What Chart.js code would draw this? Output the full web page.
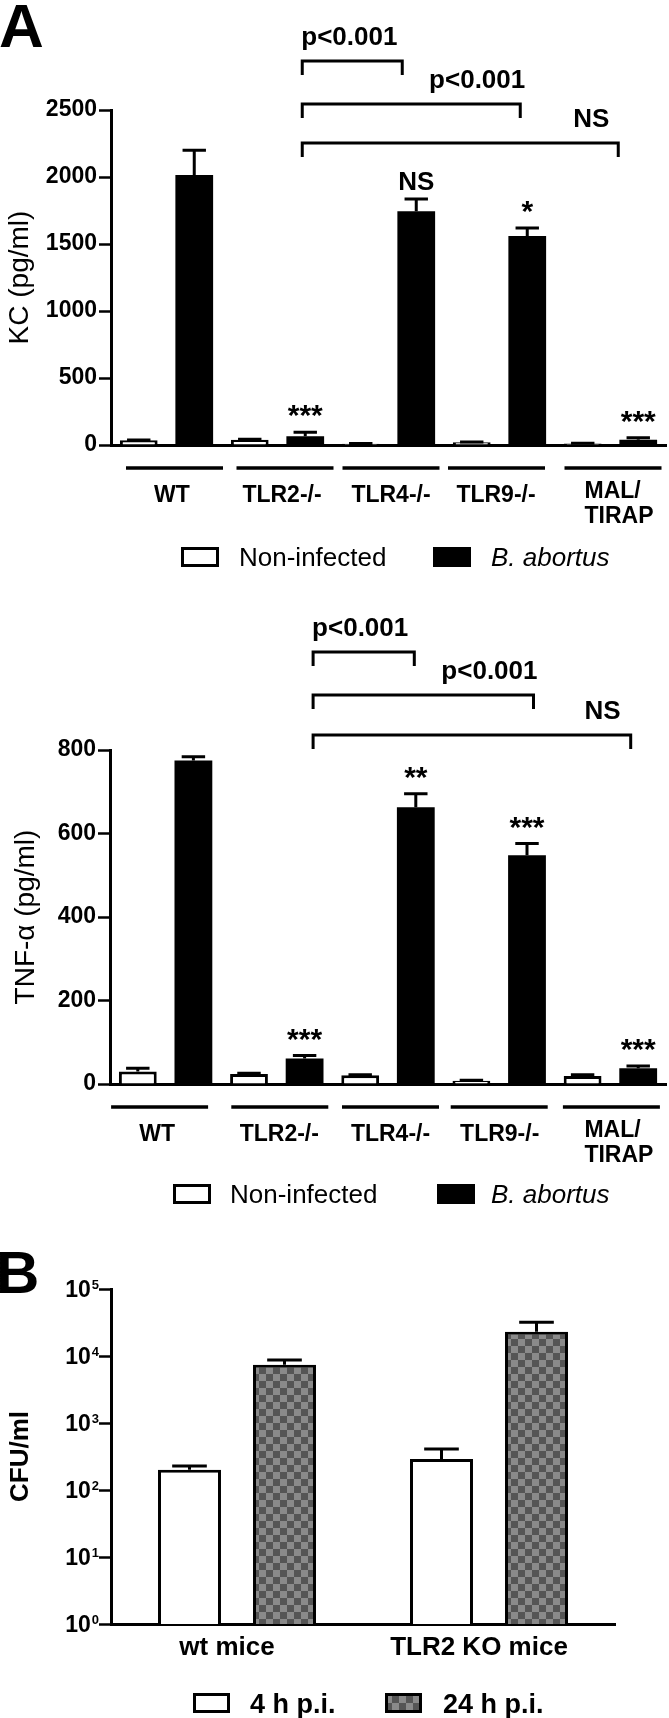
<!DOCTYPE html>
<html><head><meta charset="utf-8">
<script src="https://cdn.jsdelivr.net/npm/chart.js@4.4.1/dist/chart.umd.min.js"></script>
<style>
html,body{margin:0;padding:0;background:#fff;}
body{width:669px;height:1718px;position:relative;overflow:hidden;}
canvas{position:absolute;left:0;}
</style></head><body>
<canvas id="c1" width="669" height="590" style="top:0px"></canvas>
<canvas id="c2" width="669" height="630" style="top:590px"></canvas>
<canvas id="c3" width="669" height="498" style="top:1220px"></canvas>
<script>
// ---------- DATA ----------
const genotypes = ['WT', 'TLR2-/-', 'TLR4-/-', 'TLR9-/-', ['MAL/', 'TIRAP']];
const seriesNames = ['Non-infected', 'B. abortus'];

const kcNonInfected    = [35, 40, 10, 20, 12];
const kcNonInfectedErr = [3, 2, 1, 2, 1];
const kcAbortus        = [2015, 65, 1745, 1560, 40];
const kcAbortusErr     = [185, 30, 90, 60, 15];
const kcTicks          = [0, 500, 1000, 1500, 2000, 2500];
const kcMarks          = ['', '***', 'NS', '*', '***'];
const kcComparisons    = [[1, 2], [1, 3], [1, 4]];
const kcComparisonText = ['p<0.001', 'p<0.001', 'NS'];

const tnfNonInfected    = [30, 24, 21, 8, 19];
const tnfNonInfectedErr = [8, 2, 1, 1, 3];
const tnfAbortus        = [775, 61, 663, 548, 38];
const tnfAbortusErr     = [9, 7, 32, 28, 5];
const tnfTicks          = [0, 200, 400, 600, 800];
const tnfMarks          = ['', '***', '**', '***', '***'];
const tnfComparisons    = [[1, 2], [1, 3], [1, 4]];
const tnfComparisonText = ['p<0.001', 'p<0.001', 'NS'];

const mouseGroups = ['wt mice', 'TLR2 KO mice'];
const timeNames   = ['4 h p.i.', '24 h p.i.'];
const cfu4h       = [200, 290];
const cfu4hErr    = [29, 120];
const cfu24h      = [7400, 23000];
const cfu24hErr   = [1300, 9000];
const cfuTicks    = [1, 10, 100, 1000, 10000, 100000];

// ---------- STYLE HELPERS ----------
const FONT = '"Liberation Sans", Arial, Helvetica, sans-serif';
const font = (s, w = 'normal', st = 'normal') => `${st} ${w} ${s}px ${FONT}`;
Chart.defaults.font.family = FONT;
Chart.defaults.color = '#000';

function checker() {
  const c = document.createElement('canvas');
  c.width = 14; c.height = 14;
  const g = c.getContext('2d');
  g.fillStyle = '#8a8a8a'; g.fillRect(0, 0, 14, 14);
  g.fillStyle = '#555555'; g.fillRect(0, 0, 7, 7); g.fillRect(7, 7, 7, 7);
  return document.getElementById('c3').getContext('2d').createPattern(c, 'repeat');
}

function drawErrors(chart, errors, capFrac) {
  const ctx = chart.ctx, ys = chart.scales.y;
  ctx.strokeStyle = '#000'; ctx.lineWidth = 3; ctx.lineCap = 'butt';
  chart.data.datasets.forEach((ds, di) => {
    chart.getDatasetMeta(di).data.forEach((bar, i) => {
      const e = errors[di][i];
      if (!e) return;
      const yT = ys.getPixelForValue(ds.data[i] + e);
      const yB = ys.getPixelForValue(ds.data[i]);
      const h = bar.width * capFrac / 2;
      ctx.beginPath();
      ctx.moveTo(bar.x, yB); ctx.lineTo(bar.x, yT);
      ctx.moveTo(bar.x - h, yT); ctx.lineTo(bar.x + h, yT);
      ctx.stroke();
    });
  });
}

function makePanelA(cfg) {
  return {
    id: 'panelA' + cfg.key,
    afterDraw(chart) {
      const ctx = chart.ctx, xs = chart.scales.x, ys = chart.scales.y, ca = chart.chartArea;
      const black = chart.getDatasetMeta(1).data;
      ctx.save();
      ctx.fillStyle = '#000'; ctx.strokeStyle = '#000';
      drawErrors(chart, cfg.errors, 0.62);

      // significance marks
      cfg.marks.forEach((m, i) => {
        if (!m) return;
        const top = ys.getPixelForValue(chart.data.datasets[1].data[i] + cfg.errors[1][i]);
        const isStar = m.includes('*');
        ctx.font = font(isStar ? 30 : 26, 'bold');
        ctx.textAlign = 'center'; ctx.textBaseline = 'alphabetic';
        const mt = ctx.measureText(m);
        const bottom = top - (isStar ? 15 : 9);
        ctx.fillText(m, black[i].x, bottom - mt.actualBoundingBoxDescent);
      });

      // comparison brackets
      ctx.lineWidth = 3; ctx.lineJoin = 'miter';
      cfg.comparisons.forEach((c, k) => {
        const x1 = black[c[0]].x + cfg.fromDx;
        const x2 = black[c[1]].x + cfg.toDx[k];
        const y = ca.top + cfg.levelDy[k];
        ctx.beginPath();
        ctx.moveTo(x1, y + 14); ctx.lineTo(x1, y); ctx.lineTo(x2, y); ctx.lineTo(x2, y + 14);
        ctx.stroke();
        ctx.font = font(26, 'bold');
        const al = cfg.textAlign[k];
        ctx.textAlign = al[0];
        ctx.fillText(cfg.comparisonText[k], (al[0] === 'left' ? x1 : x2) + al[1], y - 16);
      });

      // group underlines and genotype labels
      chart.data.labels.forEach((lab, i) => {
        const cx = xs.getPixelForTick(i);
        const ux = cx + cfg.underlineDx[i];
        ctx.lineWidth = 3.5;
        ctx.beginPath(); ctx.moveTo(ux - 48.5, ca.bottom + 23); ctx.lineTo(ux + 48.5, ca.bottom + 23); ctx.stroke();
        ctx.font = font(23, 'bold');
        const lx = cx + cfg.labelDx[i];
        if (Array.isArray(lab)) {
          const w = Math.max(...lab.map(s => ctx.measureText(s).width));
          ctx.textAlign = 'left';
          lab.forEach((s, j) => ctx.fillText(s, lx - w / 2, ca.bottom + 53 + 25 * j));
        } else {
          ctx.textAlign = 'center';
          ctx.fillText(lab, lx, ca.bottom + 57);
        }
      });

      // legend
      const ly = ca.bottom + cfg.legendDy;
      cfg.legendX.forEach((lx, k) => {
        const ds = chart.data.datasets[k];
        ctx.fillStyle = ds.backgroundColor;
        ctx.fillRect(lx[0], ly - 10, 38, 20);
        ctx.lineWidth = 3; ctx.strokeStyle = '#000';
        ctx.strokeRect(lx[0] + 1.5, ly - 8.5, 35, 17);
        ctx.fillStyle = '#000';
        ctx.font = font(26, 'normal', k === 1 ? 'italic' : 'normal');
        ctx.textAlign = 'left';
        ctx.fillText(ds.label, lx[1], ly + 9);
      });

      if (cfg.letter) {
        ctx.font = font(62, 'bold'); ctx.textAlign = 'left';
        ctx.fillText(cfg.letter, -1, 47);
      }
      ctx.restore();
    }
  };
}

function panelAConfig(nonInf, abort, ticks, yMax, title, titlePad, yWidth, padTop, padBottom, plugin) {
  return {
    type: 'bar',
    data: {
      labels: genotypes,
      datasets: [
        { label: seriesNames[0], data: nonInf, backgroundColor: '#ffffff', borderColor: '#000', borderWidth: 3,
          categoryPercentage: 1.0, barPercentage: 0.68 },
        { label: seriesNames[1], data: abort, backgroundColor: '#000000', borderColor: '#000', borderWidth: 0,
          categoryPercentage: 1.0, barPercentage: 0.68 }
      ]
    },
    options: {
      responsive: false, animation: false, devicePixelRatio: 1,
      layout: { padding: { top: padTop, bottom: padBottom, left: 0, right: 3 } },
      plugins: { legend: { display: false }, tooltip: { enabled: false } },
      scales: {
        x: {
          grid: { display: false, drawTicks: false },
          border: { display: true, color: '#000', width: 3 },
          ticks: { display: false }
        },
        y: {
          min: 0, max: yMax,
          afterBuildTicks: s => { s.ticks = ticks.map(v => ({ value: v })); },
          afterFit: s => { s.width = yWidth; },
          grid: { display: true, drawOnChartArea: false, drawTicks: true, tickLength: 12, tickWidth: 2.5, tickColor: '#000' },
          border: { display: true, color: '#000', width: 3 },
          ticks: { color: '#000', font: { family: FONT, size: 23, weight: 'bold' }, padding: 2,
                   callback: v => String(v) },
          title: { display: true, text: title, color: '#000', font: { family: FONT, size: 28 }, padding: { top: titlePad, bottom: 0 } }
        }
      }
    },
    plugins: [plugin]
  };
}

// ---------- PANEL A (KC) ----------
new Chart(document.getElementById('c1'), panelAConfig(
  kcNonInfected, kcAbortus, kcTicks, 2500, 'KC (pg/ml)', 3, 111, 110, 145,
  makePanelA({
    key: 'kc', letter: 'A',
    errors: [kcNonInfectedErr, kcAbortusErr],
    marks: kcMarks, comparisons: kcComparisons, comparisonText: kcComparisonText,
    fromDx: -3, toDx: [-14, -7, -20], levelDy: [-49, -6, 33],
    textAlign: [['left', -1], ['right', 5], ['right', -9]],
    underlineDx: [8, 7.5, 2.5, -3, 2.5], labelDx: [5.5, 4.5, 2.5, -3.5, 8.5],
    legendDy: 112, legendX: [[181, 239], [433, 491]]
  })
));

// ---------- PANEL A (TNF) ----------
new Chart(document.getElementById('c2'), panelAConfig(
  tnfNonInfected, tnfAbortus, tnfTicks, 800, 'TNF-\u03B1 (pg/ml)', 9, 110, 160, 136,
  makePanelA({
    key: 'tnf', letter: '',
    errors: [tnfNonInfectedErr, tnfAbortusErr],
    marks: tnfMarks, comparisons: tnfComparisons, comparisonText: tnfComparisonText,
    fromDx: 8.5, toDx: [-1.5, 6.5, -7.5], levelDy: [-98, -55, -15],
    textAlign: [['left', -1], ['right', 4], ['right', -10]],
    underlineDx: [-6, 3, 2.5, 0, 1], labelDx: [-8.5, 2.5, 2.5, 0.5, 8.5],
    legendDy: 110, legendX: [[173, 230], [437, 491]]
  })
));

// ---------- PANEL B (CFU) ----------
const pattern = checker();
const panelB = {
  id: 'panelB',
  afterDraw(chart) {
    const ctx = chart.ctx, xs = chart.scales.x, ys = chart.scales.y, ca = chart.chartArea;
    ctx.save();
    drawErrors(chart, [cfu4hErr, cfu24hErr], 0.55);
    ctx.fillStyle = '#000';
    // y tick labels 10^n
    ys.ticks.forEach(t => {
      const y = ys.getPixelForValue(t.value);
      const exp = String(Math.round(Math.log10(t.value)));
      ctx.textAlign = 'right'; ctx.textBaseline = 'alphabetic';
      ctx.font = font(13, 'bold');
      const xr = ca.left - 12;
      ctx.fillText(exp, xr, y);
      const ew = ctx.measureText(exp).width;
      ctx.font = font(23, 'bold');
      ctx.fillText('10', xr - ew - 1, y + 8);
    });
    // x labels
    ctx.font = font(26, 'bold'); ctx.textAlign = 'center';
    chart.data.labels.forEach((lab, i) => {
      ctx.fillText(lab, xs.getPixelForTick(i) - 10, ca.bottom + 31);
    });
    // legend
    const ly = ca.bottom + 79;
    [[193, 250], [385, 443]].forEach((lx, k) => {
      const ds = chart.data.datasets[k];
      ctx.fillStyle = ds.backgroundColor;
      ctx.fillRect(lx[0], ly - 10, 37, 20);
      ctx.lineWidth = 3; ctx.strokeStyle = '#000';
      ctx.strokeRect(lx[0] + 1.5, ly - 8.5, 34, 17);
      ctx.fillStyle = '#000';
      ctx.font = font(27, 'bold'); ctx.textAlign = 'left';
      ctx.fillText(ds.label, lx[1], ly + 10);
    });
    ctx.font = font(60, 'bold'); ctx.textAlign = 'left';
    ctx.fillText('B', -4, 73);
    ctx.restore();
  }
};

new Chart(document.getElementById('c3'), {
  type: 'bar',
  data: {
    labels: mouseGroups,
    datasets: [
      { label: timeNames[0], data: cfu4h, backgroundColor: '#ffffff', borderColor: '#000', borderWidth: 3,
        categoryPercentage: 0.754, barPercentage: 0.663 },
      { label: timeNames[1], data: cfu24h, backgroundColor: pattern, borderColor: '#000', borderWidth: 3,
        categoryPercentage: 0.754, barPercentage: 0.663 }
    ]
  },
  options: {
    responsive: false, animation: false, devicePixelRatio: 1,
    layout: { padding: { top: 69, bottom: 94, left: 0, right: 54 } },
    plugins: { legend: { display: false }, tooltip: { enabled: false } },
    scales: {
      x: {
        grid: { display: false, drawTicks: false },
        border: { display: true, color: '#000', width: 3 },
        ticks: { display: false }
      },
      y: {
        type: 'logarithmic', min: 1, max: 100000,
        afterBuildTicks: s => { s.ticks = cfuTicks.map(v => ({ value: v })); },
        afterFit: s => { s.width = 111; },
        grid: { display: true, drawOnChartArea: false, drawTicks: true, tickLength: 12, tickWidth: 2.5, tickColor: '#000' },
        border: { display: true, color: '#000', width: 3 },
        ticks: { display: false },
        title: { display: true, text: 'CFU/ml', color: '#000', font: { family: FONT, size: 26, weight: 'bold' }, padding: { top: 5, bottom: 0 } }
      }
    }
  },
  plugins: [panelB]
});
</script>
</body></html>
